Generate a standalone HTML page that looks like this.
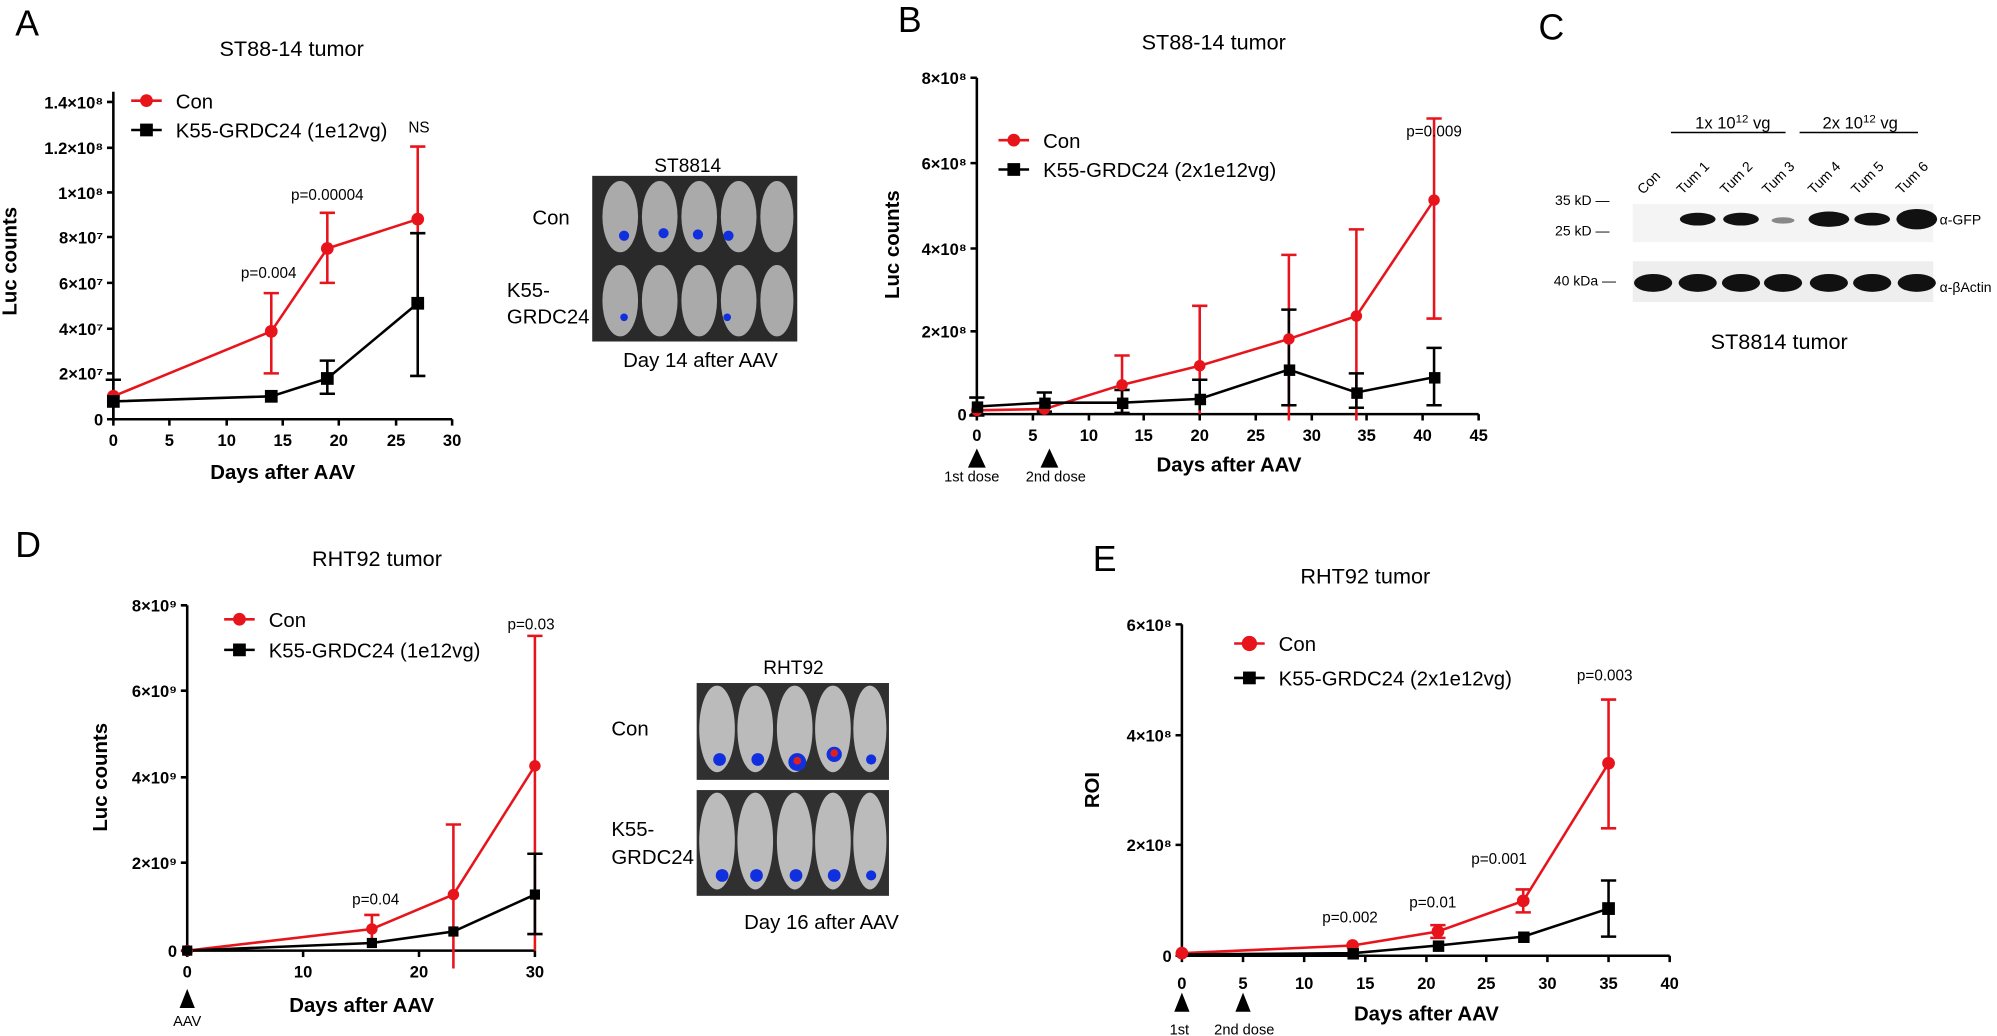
<!DOCTYPE html>
<html><head><meta charset="utf-8"><style>
html,body{margin:0;padding:0;background:#fff;}
svg{display:block;}
text{font-family:"Liberation Sans",sans-serif;}
.t{font-size:17px;text-anchor:middle;}
.tk{font-size:13px;font-weight:bold;}
.al{font-size:16px;font-weight:bold;text-anchor:middle;}
.lg{font-size:16px;}
.p{font-size:12px;text-anchor:middle;}
.L{font-size:28px;}
.ax{stroke:#000;stroke-width:2;fill:none;}
.r{stroke:#e8141c;stroke-width:2;fill:none;}
.k{stroke:#000;stroke-width:2;fill:none;}
</style></head><body>
<svg width="1997" height="1036" viewBox="0 0 1568 813" preserveAspectRatio="none" xmlns="http://www.w3.org/2000/svg">
<!-- ===== Panel A ===== -->
<text x="12" y="28" class="L">A</text>
<text x="229" y="44" class="t">ST88-14 tumor</text>
<path class="ax" d="M89,72 V329 H355"/>
<g class="ax" stroke-width="1.5">
<path d="M84,329H89M84,293H89M84,258H89M84,222H89M84,186H89M84,151H89M84,116H89M84,80H89"/>
<path d="M89,329v5M133,329v5M178,329v5M222,329v5M266,329v5M311,329v5M355,329v5"/>
</g>
<g class="tk" text-anchor="end">
<text x="81" y="334">0</text><text x="81" y="298">2×10⁷</text><text x="81" y="263">4×10⁷</text><text x="81" y="227">6×10⁷</text><text x="81" y="191">8×10⁷</text><text x="81" y="156">1×10⁸</text><text x="81" y="121">1.2×10⁸</text><text x="81" y="85">1.4×10⁸</text>
</g>
<g class="tk" text-anchor="middle">
<text x="89" y="350">0</text><text x="133" y="350">5</text><text x="178" y="350">10</text><text x="222" y="350">15</text><text x="266" y="350">20</text><text x="311" y="350">25</text><text x="355" y="350">30</text>
</g>
<text class="al" x="222" y="376">Days after AAV</text>
<text class="al" transform="translate(13,205) rotate(-90)">Luc counts</text>
<path class="r" d="M89,311L213,260L257,195L328,172M213,230V293M207,230h12M207,293h12M257,167V222M251,167h12M251,222h12M328,115V240M322,115h12M89,305V318"/>
<path class="k" d="M89,315L213,311L257,297L328,238M89,298V329M83,298h12M257,283V309M251,283h12M251,309h12M328,183V295M322,183h12M322,295h12"/>
<g fill="#e8141c"><circle cx="89" cy="311" r="5"/><circle cx="213" cy="260" r="5"/><circle cx="257" cy="195" r="5"/><circle cx="328" cy="172" r="5"/></g>
<g fill="#000"><rect x="84" y="310" width="10" height="10"/><rect x="208" y="306" width="10" height="10"/><rect x="252" y="292" width="10" height="10"/><rect x="323" y="233" width="10" height="10"/></g>
<text class="p" x="211" y="218">p=0.004</text><text class="p" x="257" y="157">p=0.00004</text><text class="p" x="329" y="104">NS</text>
<path class="r" d="M103,79h24"/><circle cx="115" cy="79" r="5" fill="#e8141c"/><text class="lg" x="138" y="85">Con</text>
<path class="k" d="M103,102h24"/><rect x="110" y="97" width="10" height="10"/><text class="lg" x="138" y="108">K55-GRDC24 (1e12vg)</text>
<!-- mice A -->
<text x="540" y="135" font-size="15" text-anchor="middle">ST8814</text>
<rect x="465" y="138" width="161" height="130" fill="#2a2a2a"/>
<g fill="#aaa"><ellipse cx="487" cy="170" rx="14" ry="28"/><ellipse cx="518" cy="170" rx="14" ry="28"/><ellipse cx="549" cy="170" rx="14" ry="28"/><ellipse cx="580" cy="170" rx="14" ry="28"/><ellipse cx="610" cy="170" rx="13" ry="28"/>
<ellipse cx="487" cy="236" rx="14" ry="28"/><ellipse cx="518" cy="236" rx="14" ry="28"/><ellipse cx="549" cy="236" rx="14" ry="28"/><ellipse cx="580" cy="236" rx="14" ry="28"/><ellipse cx="610" cy="236" rx="13" ry="28"/></g>
<g fill="#1030e0"><circle cx="490" cy="185" r="4"/><circle cx="521" cy="183" r="4"/><circle cx="548" cy="184" r="4"/><circle cx="572" cy="185" r="4"/><circle cx="490" cy="249" r="3"/><circle cx="571" cy="249" r="3"/></g>
<text x="418" y="176" font-size="16">Con</text>
<text x="398" y="233" font-size="16">K55-</text><text x="398" y="254" font-size="16">GRDC24</text>
<text x="550" y="288" font-size="16" text-anchor="middle">Day 14 after AAV</text>
<!-- ===== Panel B ===== -->
<text x="705" y="25" class="L">B</text>
<text x="953" y="39" class="t">ST88-14 tumor</text>
<path class="ax" d="M767,61 V325 H1161"/>
<g class="ax" stroke-width="1.5">
<path d="M762,325H767M762,260H767M762,195H767M762,128H767M762,61H767"/>
<path d="M767,325v5M811,325v5M855,325v5M898,325v5M942,325v5M986,325v5M1030,325v5M1073,325v5M1117,325v5M1161,325v5"/>
</g>
<g class="tk" text-anchor="end"><text x="759" y="330">0</text><text x="759" y="265">2×10⁸</text><text x="759" y="200">4×10⁸</text><text x="759" y="133">6×10⁸</text><text x="759" y="66">8×10⁸</text></g>
<g class="tk" text-anchor="middle"><text x="767" y="346">0</text><text x="811" y="346">5</text><text x="855" y="346">10</text><text x="898" y="346">15</text><text x="942" y="346">20</text><text x="986" y="346">25</text><text x="1030" y="346">30</text><text x="1073" y="346">35</text><text x="1117" y="346">40</text><text x="1161" y="346">45</text></g>
<text class="al" x="965" y="370">Days after AAV</text>
<text class="al" transform="translate(706,192) rotate(-90)">Luc counts</text>
<path class="r" d="M767,322L820,321L881,302L942,287L1012,266L1065,248L1126,157M881,279V325M875,279h12M942,240V325M936,240h12M1012,200V330M1006,200h12M1065,180V330M1059,180h12M1126,93V250M1120,93h12M1120,250h12"/>
<path class="k" d="M767,319L820,316L881,316L942,313L1012,290L1065,308L1126,296M767,312V326M761,312h12M761,326h12M820,308V323M814,308h12M814,323h12M881,306V324M875,306h12M875,324h12M942,298V322M936,298h12M1012,243V318M1006,243h12M1006,318h12M1065,293V320M1059,293h12M1059,320h12M1126,273V318M1120,273h12M1120,318h12"/>
<g fill="#e8141c"><circle cx="767" cy="322" r="4.5"/><circle cx="820" cy="321" r="4.5"/><circle cx="881" cy="302" r="4.5"/><circle cx="942" cy="287" r="4.5"/><circle cx="1012" cy="266" r="4.5"/><circle cx="1065" cy="248" r="4.5"/><circle cx="1126" cy="157" r="4.5"/></g>
<g fill="#000"><rect x="763" y="315" width="9" height="9"/><rect x="816" y="312" width="9" height="9"/><rect x="877" y="312" width="9" height="9"/><rect x="938" y="309" width="9" height="9"/><rect x="1008" y="286" width="9" height="9"/><rect x="1061" y="304" width="9" height="9"/><rect x="1122" y="292" width="9" height="9"/></g>
<text class="p" x="1126" y="107">p=0.009</text>
<path class="r" d="M784,110h24"/><circle cx="796" cy="110" r="5" fill="#e8141c"/><text class="lg" x="819" y="116">Con</text>
<path class="k" d="M784,133h24"/><rect x="791" y="128" width="10" height="10"/><text class="lg" x="819" y="139">K55-GRDC24 (2x1e12vg)</text>
<path d="M760,367L767,352L774,367Z M817,367L824,352L831,367Z" fill="#000"/>
<text x="763" y="378" font-size="11.5" text-anchor="middle">1st dose</text><text x="829" y="378" font-size="11.5" text-anchor="middle">2nd dose</text>
<!-- ===== Panel C ===== -->
<text x="1208" y="31" class="L">C</text>
<text x="1331" y="101" font-size="13">1x 10<tspan font-size="9" dy="-5">12</tspan><tspan dy="5"> vg</tspan></text>
<text x="1431" y="101" font-size="13">2x 10<tspan font-size="9" dy="-5">12</tspan><tspan dy="5"> vg</tspan></text>
<path d="M1312,104H1402M1413,104H1506" stroke="#000" stroke-width="1.2"/>
<g font-size="11">
<text transform="translate(1290,153) rotate(-45)">Con</text><text transform="translate(1321,153) rotate(-45)">Tum 1</text><text transform="translate(1355,153) rotate(-45)">Tum 2</text><text transform="translate(1388,153) rotate(-45)">Tum 3</text><text transform="translate(1424,153) rotate(-45)">Tum 4</text><text transform="translate(1458,153) rotate(-45)">Tum 5</text><text transform="translate(1493,153) rotate(-45)">Tum 6</text>
</g>
<rect x="1282" y="160" width="236" height="30" fill="#f4f4f4"/>
<g fill="#111"><ellipse cx="1333" cy="172" rx="14" ry="5"/><ellipse cx="1367" cy="172" rx="14" ry="5"/><ellipse cx="1400" cy="173" rx="9" ry="2.5" fill="#888"/><ellipse cx="1436" cy="172" rx="16" ry="6"/><ellipse cx="1470" cy="172" rx="14" ry="5"/><ellipse cx="1505" cy="172" rx="16" ry="8"/></g>
<rect x="1282" y="205" width="236" height="32" fill="#eee"/>
<g fill="#111"><ellipse cx="1298" cy="222" rx="15" ry="7"/><ellipse cx="1333" cy="222" rx="15" ry="7"/><ellipse cx="1367" cy="222" rx="15" ry="7"/><ellipse cx="1400" cy="222" rx="15" ry="7"/><ellipse cx="1436" cy="222" rx="15" ry="7"/><ellipse cx="1470" cy="222" rx="15" ry="7"/><ellipse cx="1505" cy="222" rx="15" ry="7"/></g>
<g font-size="11"><text x="1221" y="161">35 kD —</text><text x="1221" y="185">25 kD —</text><text x="1220" y="224">40 kDa —</text><text x="1523" y="176">α-GFP</text><text x="1523" y="229">α-βActin</text></g>
<text x="1397" y="274" font-size="17" text-anchor="middle">ST8814 tumor</text>
<!-- ===== Panel D ===== -->
<text x="12" y="437" class="L">D</text>
<text x="296" y="444" class="t">RHT92 tumor</text>
<path class="ax" d="M147,475 V746 H420"/>
<g class="ax" stroke-width="1.5"><path d="M142,746H147M142,677H147M142,610H147M142,542H147M142,475H147"/><path d="M147,746v5M238,746v5M329,746v5M420,746v5"/></g>
<g class="tk" text-anchor="end"><text x="139" y="751">0</text><text x="139" y="682">2×10⁹</text><text x="139" y="615">4×10⁹</text><text x="139" y="547">6×10⁹</text><text x="139" y="480">8×10⁹</text></g>
<g class="tk" text-anchor="middle"><text x="147" y="767">0</text><text x="238" y="767">10</text><text x="329" y="767">20</text><text x="420" y="767">30</text></g>
<text class="al" x="284" y="794">Days after AAV</text>
<text class="al" transform="translate(84,610) rotate(-90)">Luc counts</text>
<path class="r" d="M147,746L292,729L356,702L420,601M292,718V740M286,718h12M356,647V760M350,647h12M420,499V746M414,499h12"/>
<path class="k" d="M147,746L292,740L356,731L420,702M420,670V733M414,670h12M414,733h12"/>
<g fill="#e8141c"><circle cx="147" cy="746" r="4.5"/><circle cx="292" cy="729" r="4.5"/><circle cx="356" cy="702" r="4.5"/><circle cx="420" cy="601" r="4.5"/></g>
<g fill="#000"><rect x="143" y="742" width="8" height="8"/><rect x="288" y="736" width="8" height="8"/><rect x="352" y="727" width="8" height="8"/><rect x="416" y="698" width="8" height="8"/></g>
<text class="p" x="295" y="710" font-size="15">p=0.04</text><text class="p" x="417" y="494" font-size="15">p=0.03</text>
<path class="r" d="M176,486h24"/><circle cx="188" cy="486" r="5" fill="#e8141c"/><text class="lg" x="211" y="492">Con</text>
<path class="k" d="M176,510h24"/><rect x="183" y="505" width="10" height="10"/><text class="lg" x="211" y="516">K55-GRDC24 (1e12vg)</text>
<path d="M141,791L147,776L153,791Z" fill="#000"/><text x="147" y="805" font-size="11.5" text-anchor="middle">AAV</text>
<!-- mice D -->
<text x="623" y="529" font-size="15" text-anchor="middle">RHT92</text>
<rect x="547" y="536" width="151" height="76" fill="#303030"/>
<rect x="547" y="620" width="151" height="83" fill="#303030"/>
<g fill="#bbb"><ellipse cx="563" cy="572" rx="14" ry="34"/><ellipse cx="593" cy="572" rx="14" ry="34"/><ellipse cx="624" cy="572" rx="14" ry="34"/><ellipse cx="654" cy="572" rx="14" ry="34"/><ellipse cx="683" cy="572" rx="13" ry="34"/>
<ellipse cx="563" cy="660" rx="14" ry="38"/><ellipse cx="593" cy="660" rx="14" ry="38"/><ellipse cx="624" cy="660" rx="14" ry="38"/><ellipse cx="654" cy="660" rx="14" ry="38"/><ellipse cx="683" cy="660" rx="13" ry="38"/></g>
<g fill="#1030e0"><circle cx="565" cy="596" r="5"/><circle cx="595" cy="596" r="5"/><circle cx="626" cy="598" r="7"/><circle cx="655" cy="592" r="6"/><circle cx="684" cy="596" r="4"/><circle cx="567" cy="687" r="5"/><circle cx="594" cy="687" r="5"/><circle cx="625" cy="687" r="5"/><circle cx="655" cy="687" r="5"/><circle cx="684" cy="687" r="4"/></g>
<g fill="#e02020"><circle cx="626" cy="597" r="3"/><circle cx="655" cy="591" r="3"/></g>
<text x="480" y="577" font-size="16">Con</text>
<text x="480" y="656" font-size="16">K55-</text><text x="480" y="678" font-size="16">GRDC24</text>
<text x="645" y="729" font-size="16" text-anchor="middle">Day 16 after AAV</text>
<!-- ===== Panel E ===== -->
<text x="858" y="448" class="L">E</text>
<text x="1072" y="458" class="t">RHT92 tumor</text>
<path class="ax" d="M928,490 V750 H1311"/>
<g class="ax" stroke-width="1.5"><path d="M923,750H928M923,663H928M923,577H928M923,490H928"/>
<path d="M928,750v5M976,750v5M1024,750v5M1072,750v5M1120,750v5M1167,750v5M1215,750v5M1263,750v5M1311,750v5"/></g>
<g class="tk" text-anchor="end"><text x="920" y="755">0</text><text x="920" y="668">2×10⁸</text><text x="920" y="582">4×10⁸</text><text x="920" y="495">6×10⁸</text></g>
<g class="tk" text-anchor="middle"><text x="928" y="776">0</text><text x="976" y="776">5</text><text x="1024" y="776">10</text><text x="1072" y="776">15</text><text x="1120" y="776">20</text><text x="1167" y="776">25</text><text x="1215" y="776">30</text><text x="1263" y="776">35</text><text x="1311" y="776">40</text></g>
<text class="al" x="1120" y="801">Days after AAV</text>
<text class="al" transform="translate(863,620) rotate(-90)">ROI</text>
<path class="r" d="M928,748L1062,742L1129,731L1196,707L1263,599M1263,549V650M1257,549h12M1257,650h12M1196,698V716M1190,698h12M1190,716h12M1129,726V736M1123,726h12M1123,736h12"/>
<path class="k" d="M928,749L1062,748L1129,742L1196,735L1263,713M1263,691V735M1257,691h12M1257,735h12M1263,713V736"/>
<g fill="#e8141c"><circle cx="928" cy="748" r="5"/><circle cx="1062" cy="742" r="5"/><circle cx="1129" cy="731" r="5"/><circle cx="1196" cy="707" r="5"/><circle cx="1263" cy="599" r="5"/></g>
<g fill="#000"><rect x="1058" y="744" width="9" height="9"/><rect x="1125" y="738" width="9" height="9"/><rect x="1192" y="731" width="9" height="9"/><rect x="1258" y="708" width="10" height="10"/></g>
<text class="p" x="1060" y="724">p=0.002</text><text class="p" x="1125" y="712">p=0.01</text><text class="p" x="1177" y="678">p=0.001</text><text class="p" x="1260" y="534">p=0.003</text>
<path class="r" d="M969,505h24"/><circle cx="981" cy="505" r="6" fill="#e8141c"/><text class="lg" x="1004" y="511">Con</text>
<path class="k" d="M969,532h24"/><rect x="976" y="527" width="10" height="10"/><text class="lg" x="1004" y="538">K55-GRDC24 (2x1e12vg)</text>
<path d="M922,794L928,779L934,794Z M970,794L976,779L982,794Z" fill="#000"/>
<text x="926" y="812" font-size="11.5" text-anchor="middle">1st</text><text x="977" y="812" font-size="11.5" text-anchor="middle">2nd dose</text>
</svg>
</body></html>
